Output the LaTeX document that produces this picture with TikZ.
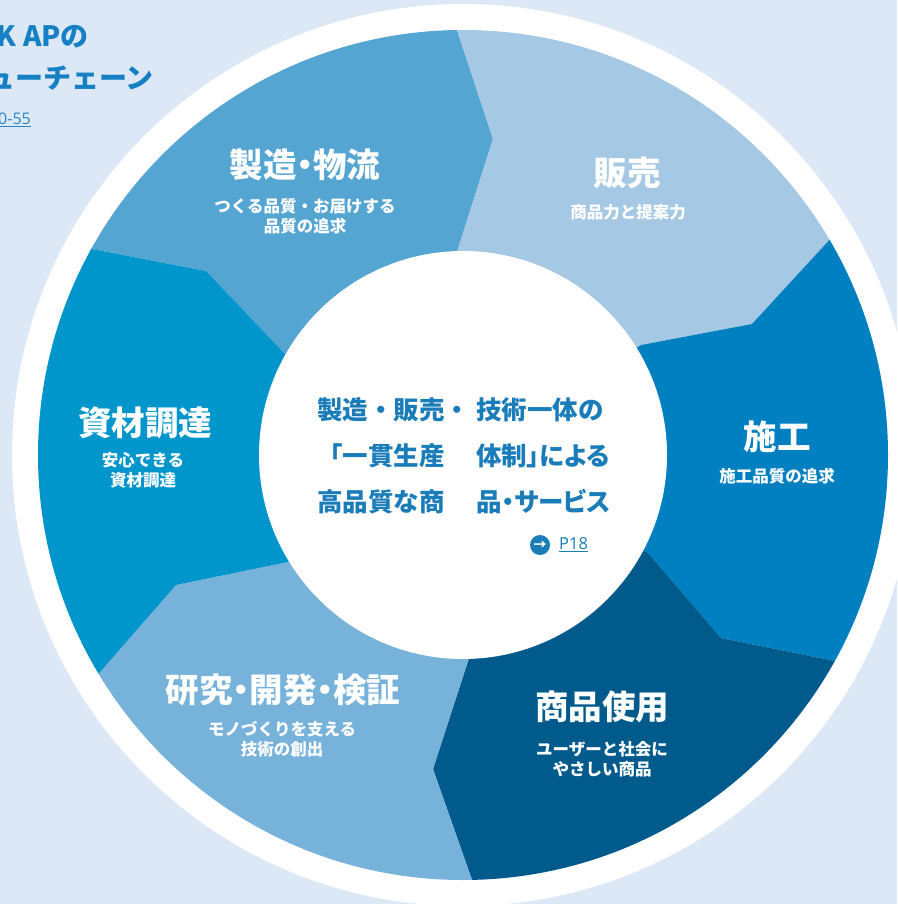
\documentclass[tikz,border=0pt]{standalone}
\usepackage{fontspec}
\setmainfont{Noto Sans CJK JP}
\newfontfamily\paltfont{Noto Sans CJK JP}[RawFeature=+palt]
\newfontfamily\latfont{Open Sans}
\definecolor{bg}{HTML}{DCE8F5}
\definecolor{cMfg}{HTML}{55A5D3}
\definecolor{cSales}{HTML}{A5C8E5}
\definecolor{cCon}{HTML}{0080C0}
\definecolor{cUse}{HTML}{005B8C}
\definecolor{cRnd}{HTML}{77B2DA}
\definecolor{cMat}{HTML}{0096CB}
\definecolor{cText}{HTML}{1A7DBA}
\definecolor{cHead}{HTML}{1580C3}
\definecolor{cLink}{HTML}{2A86C6}
\tikzset{
  segtitle/.style={text=white, inner sep=0pt, font=\paltfont\fontsize{33.5}{38}\selectfont\bfseries},
  segsub/.style={text=white, inner sep=0pt, align=center, font=\fontsize{16.5}{20}\selectfont\bfseries},
  midtext/.style={text=cText, inner sep=0pt, anchor=west, font=\fontsize{25.5}{28}\selectfont\bfseries},
  midtextp/.style={text=cText, inner sep=0pt, anchor=west, font=\paltfont\fontsize{25.5}{28}\selectfont\bfseries},
  headtext/.style={text=cHead, inner sep=0pt, anchor=east, font=\fontsize{28}{32}\selectfont\bfseries},
}
\begin{document}
\begin{tikzpicture}[x=1pt,y=-1pt]
\useasboundingbox (0,0) rectangle (897,904);
\fill[bg] (0,0) rectangle (897,904);
\coordinate (C) at (463,455);
\fill[white] (C) circle[radius=451pt];
\begin{scope}
\clip (C) circle[radius=425pt];
% manufacturing / logistics
\fill[cMfg] (C) -- (285,354) -- (206,271) -- (-22,227) -- (421,-79) -- (493,139) -- (457,252) -- cycle;
% sales
\fill[cSales] (C) -- (457,252) -- (493,139) -- (421,-79) -- (914,148) -- (752,324) -- (641,345) -- cycle;
% construction
\fill[cCon] (C) -- (641,345) -- (752,324) -- (914,148) -- (959,686) -- (721,638) -- (648,553) -- cycle;
% product use
\fill[cUse] (C) -- (648,553) -- (721,638) -- (959,686) -- (511,991) -- (433,769) -- (469,658) -- cycle;
% R&D
\fill[cRnd] (C) -- (469,658) -- (433,769) -- (511,991) -- (26,757) -- (176,585) -- (288,562) -- cycle;
% materials
\fill[cMat] (C) -- (288,562) -- (176,585) -- (26,757) -- (-22,227) -- (206,271) -- (285,354) -- cycle;
\end{scope}
\fill[white] (C) circle[radius=204pt];

% segment labels
\node[segtitle] (mfgT) at (305,165) {製造・物流};
\node[segsub] (mfgS) at (305,216) {つくる品質・お届けする\\品質の追求};
\node[segtitle] (salT) at (627,173) {販売};
\node[segsub] (salS) at (628,212) {商品力と提案力};
\node[segtitle] (conT) at (777,437) {施工};
\node[segsub] (conS) at (777,476) {施工品質の追求};
\node[segtitle] (useT) at (602,707) {商品使用};
\node[segsub] (useS) at (602,759) {ユーザーと社会に\\やさしい商品};
\node[segtitle] (rndT) at (283,690) {研究・開発・検証};
\node[segsub] (rndS) at (282,739) {モノづくりを支える\\技術の創出};
\node[segtitle] (matT) at (145,423) {資材調達};
\node[segsub] (matS) at (143,470) {安心できる\\資材調達};

% center text
\node[midtext] (m1a) at (317,410) {製造・販売・};
\node[midtextp] (m1b) at (476,410) {技術一体の};
\node[midtext] (m2a) at (317,456) {「一貫生産};
\node[midtextp] (m2b) at (476,456) {体制」による};
\node[midtext] (m3a) at (317,502) {高品質な商};
\node[midtextp] (m3b) at (476,502) {品・サービス};

% link
\node[circle, fill=cText, minimum size=20pt, inner sep=0pt, text=white,
      font=\fontsize{13}{13}\selectfont\bfseries] (icon) at (540,545) {→};
\node[text=cText, anchor=west, inner sep=0pt, font=\latfont\fontsize{16.5}{18}\selectfont] (p18) at (559,545) {\underline{P18}};

% heading (cut at the page edge, as in the reference)
\node[headtext] (h1) at (89,37) {K APの};
\node[headtext] (h2) at (154,78) {ューチェーン};
\node[text=cLink, anchor=east, inner sep=0pt, font=\latfont\fontsize{16}{18}\selectfont] (h3) at (31,120) {\underline{0-55}};
\end{tikzpicture}
\end{document}
